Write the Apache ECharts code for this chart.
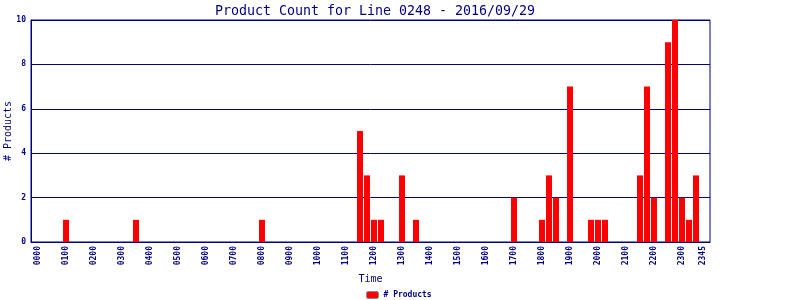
<!DOCTYPE html>
<html>
<head>
<meta charset="utf-8">
<script src="https://cdn.jsdelivr.net/npm/echarts@6/dist/echarts.min.js"></script>
<style>html,body{margin:0;padding:0;background:#fff}#c{width:800px;height:300px}</style>
</head>
<body>
<div id="c"></div>
<script>
// 15-minute slots: index 0 = 0000 ... index 95 = 2345
const slotIndex = [4, 14, 32, 46, 47, 48, 49, 52, 54, 68, 72, 73, 74, 76, 79, 80, 81, 86, 87, 88, 90, 91, 92, 93, 94];
const productCounts = [1, 1, 1, 5, 3, 1, 1, 3, 1, 2, 1, 3, 2, 7, 1, 1, 1, 3, 7, 2, 9, 10, 2, 1, 3];
const tickSlots = [0,4,8,12,16,20,24,28,32,36,40,44,48,52,56,60,64,68,72,76,80,84,88,92,95];
const yTicks = [0, 2, 4, 6, 8, 10];

function slotLabel(i) {
  const h = Math.floor(i / 4), m = (i % 4) * 15;
  return String(h).padStart(2, '0') + String(m).padStart(2, '0');
}
const navy = '#000080';
const mono = 'DejaVu Sans Mono';
const chart = echarts.init(document.getElementById('c'), null, {renderer: 'canvas'});
chart.setOption({
  animation: false,
  backgroundColor: '#fff',
  title: {
    text: 'Product Count for Line 0248 - 2016/09/29',
    left: 370, top: 0, textAlign: 'center',
    textStyle: {fontFamily: mono, fontSize: 13.3, fontWeight: 'normal', color: navy}
  },
  legend: {
    data: ['# Products'], left: 366, top: 291, padding: 0, itemWidth: 12, itemHeight: 7, itemGap: 4,
    textStyle: {fontFamily: mono, fontSize: 8, fontWeight: 'bold', color: navy, lineHeight: 8},
    itemStyle: {borderColor: '#888', borderWidth: 1}
  },
  grid: {left: 31, right: 90, top: 20, bottom: 58, containLabel: false, outerBoundsMode: 'none',
    show: true, borderColor: navy, borderWidth: 1, backgroundColor: 'transparent'},
  xAxis: {
    type: 'value', min: -1, max: 96,
    name: 'Time', nameLocation: 'middle', nameGap: 32, nameMoveOverlap: false,
    nameTextStyle: {fontFamily: mono, fontSize: 10, color: navy},
    axisLine: {show: true, onZero: false, lineStyle: {color: navy, width: 1}},
    axisTick: {show: false},
    splitLine: {show: false},
    axisLabel: {
      customValues: tickSlots, rotate: 90, margin: 4,
      fontFamily: mono, fontSize: 8, fontWeight: 'bold', color: navy,
      formatter: v => slotLabel(v)
    }
  },
  yAxis: {
    type: 'value', min: 0, max: 10, interval: 2,
    name: '# Products', nameLocation: 'middle', nameGap: 18, nameMoveOverlap: false,
    nameTextStyle: {fontFamily: mono, fontSize: 10, color: navy},
    axisLine: {show: true, onZero: false, lineStyle: {color: navy, width: 1}},
    axisTick: {show: false},
    splitLine: {show: true, lineStyle: {color: navy, width: 1}},
    axisLabel: {margin: 5, fontFamily: mono, fontSize: 8, fontWeight: 'bold', color: navy,
      formatter: v => yTicks.includes(v) ? String(v) : ''}
  },
  series: [{
    name: '# Products', type: 'bar', barWidth: 6,
    itemStyle: {color: '#ff0000'},
    data: slotIndex.map((s, k) => [s, productCounts[k]])
  }]
});
</script>
</body>
</html>
